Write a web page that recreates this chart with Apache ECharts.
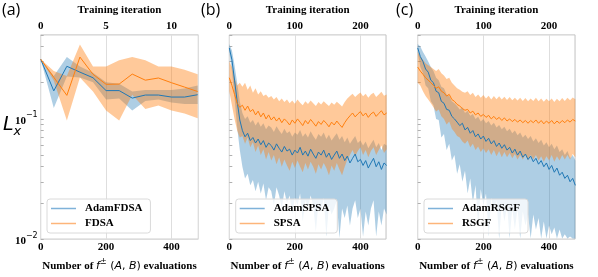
<!DOCTYPE html>
<html><head><meta charset="utf-8">
<script src="https://cdn.jsdelivr.net/npm/echarts@6/dist/echarts.min.js"></script>
<style>html,body{margin:0;padding:0;background:#fff}#c{width:598px;height:277px}</style>
</head><body><div id="c"></div>
<script>
// ---------- labels / ticks ----------
const panelLabels = ['(a)', '(b)', '(c)'];
const legendNames = [['AdamFDSA', 'FDSA'], ['AdamSPSA', 'SPSA'], ['AdamRSGF', 'RSGF']];
const yLabelValues = [0.01, 0.1];
const yTickValues = [0.01,0.02,0.03,0.04,0.05,0.06,0.07,0.08,0.09,0.1,0.2,0.3,0.4,0.5];
const yMin = 0.01, yMax = 0.5;
const evalMax = [482, 478, 479];
const iterMax = [12.05, 239, 239.5];
const iterInterval = [5, 100, 100];

// ---------- panel (a): FDSA, 40 evaluations per iteration ----------
const evalsA = [0,40,80,120,160,200,240,280,320,360,400,440,480];
const adamFDSA_mean = [0.314,0.171,0.274,0.245,0.220,0.172,0.172,0.149,0.158,0.158,0.152,0.152,0.159];
const adamFDSA_lo   = [0.314,0.1235,0.225,0.221,0.202,0.145,0.148,0.1177,0.141,0.145,0.137,0.133,0.133];
const adamFDSA_hi   = [0.314,0.228,0.327,0.273,0.242,0.202,0.196,0.169,0.174,0.174,0.174,0.179,0.190];
const fdsa_mean = [0.314,0.222,0.157,0.327,0.235,0.194,0.195,0.236,0.210,0.219,0.200,0.184,0.169];
const fdsa_lo   = [0.314,0.208,0.097,0.221,0.169,0.1177,0.097,0.159,0.121,0.129,0.1177,0.1108,0.1013];
const fdsa_hi   = [0.314,0.250,0.228,0.416,0.273,0.273,0.308,0.327,0.308,0.273,0.273,0.257,0.235];

// ---------- panels (b),(c): sampled every 8 evaluations ----------
const evalsBC = [0,8,16,24,32,40,48,56,64,72,80,88,96,104,112,120,128,136,144,152,160,168,176,184,192,200,208,216,224,232,240,248,256,264,272,280,288,296,304,312,320,328,336,344,352,360,368,376,384,392,400,408,416,424,432,440,448,456,464,472,480];

const adamSPSA_mean = [0.39,0.31,0.21,0.14,0.098,0.08,0.071,0.076,0.066,0.07,0.063,0.068,0.061,0.066,0.058,0.063,0.06,0.055,0.062,0.057,0.053,0.059,0.054,0.056,0.05,0.055,0.052,0.058,0.05,0.054,0.049,0.056,0.051,0.047,0.053,0.05,0.055,0.048,0.052,0.046,0.05,0.054,0.047,0.051,0.045,0.049,0.043,0.047,0.051,0.044,0.046,0.041,0.045,0.039,0.043,0.047,0.04,0.044,0.038,0.043,0.041];
const adamSPSA_hi = [0.42,0.37,0.28,0.2,0.14,0.112,0.1,0.105,0.093,0.098,0.088,0.095,0.086,0.092,0.082,0.088,0.085,0.078,0.087,0.08,0.075,0.083,0.076,0.079,0.071,0.077,0.074,0.081,0.071,0.076,0.07,0.079,0.072,0.067,0.075,0.071,0.077,0.068,0.074,0.066,0.071,0.076,0.067,0.072,0.064,0.07,0.062,0.067,0.072,0.063,0.066,0.06,0.065,0.057,0.062,0.067,0.058,0.063,0.055,0.062,0.06];
const adamSPSA_lo = [0.36,0.25,0.15,0.085,0.055,0.04,0.032,0.035,0.028,0.031,0.025,0.03,0.024,0.029,0.021,0.027,0.025,0.019,0.027,0.023,0.018,0.025,0.02,0.023,0.016,0.022,0.019,0.024,0.014,0.021,0.018,0.023,0.019,0.0115,0.02,0.017,0.022,0.0105,0.019,0.016,0.018,0.021,0.0102,0.018,0.015,0.019,0.013,0.018,0.021,0.015,0.018,0.0105,0.017,0.013,0.018,0.021,0.0105,0.017,0.013,0.018,0.016];

const spsa_mean = [0.22,0.19,0.16,0.135,0.125,0.13,0.118,0.128,0.115,0.12,0.108,0.116,0.104,0.112,0.1,0.108,0.098,0.104,0.096,0.102,0.093,0.1,0.095,0.089,0.098,0.092,0.1,0.094,0.088,0.097,0.091,0.099,0.093,0.087,0.095,0.09,0.097,0.092,0.086,0.094,0.089,0.096,0.09,0.085,0.093,0.1,0.106,0.112,0.104,0.11,0.115,0.106,0.112,0.103,0.11,0.114,0.105,0.111,0.117,0.108,0.112];
const spsa_hi = [0.3,0.27,0.22,0.19,0.2,0.185,0.2,0.175,0.19,0.165,0.18,0.16,0.17,0.155,0.16,0.15,0.155,0.145,0.152,0.14,0.148,0.138,0.145,0.135,0.142,0.134,0.145,0.136,0.13,0.14,0.133,0.142,0.135,0.128,0.138,0.132,0.14,0.134,0.128,0.137,0.131,0.139,0.133,0.127,0.138,0.148,0.155,0.162,0.152,0.16,0.166,0.154,0.162,0.15,0.16,0.165,0.152,0.16,0.168,0.156,0.16];
const spsa_lo = [0.17,0.13,0.1,0.08,0.07,0.072,0.062,0.07,0.058,0.064,0.053,0.06,0.05,0.056,0.046,0.053,0.045,0.05,0.042,0.048,0.04,0.046,0.041,0.037,0.044,0.039,0.045,0.04,0.036,0.043,0.038,0.044,0.04,0.035,0.042,0.038,0.043,0.039,0.034,0.041,0.037,0.043,0.038,0.034,0.04,0.046,0.05,0.055,0.049,0.054,0.058,0.05,0.055,0.048,0.054,0.058,0.05,0.055,0.06,0.052,0.056];

const adamRSGF_mean = [0.39,0.33,0.3,0.26,0.245,0.21,0.2,0.17,0.165,0.14,0.135,0.12,0.118,0.105,0.1,0.094,0.088,0.092,0.081,0.085,0.076,0.08,0.071,0.075,0.068,0.072,0.065,0.069,0.062,0.066,0.059,0.063,0.057,0.061,0.055,0.058,0.052,0.056,0.05,0.054,0.048,0.051,0.046,0.049,0.044,0.047,0.042,0.045,0.04,0.043,0.038,0.041,0.036,0.039,0.034,0.036,0.032,0.034,0.03,0.032,0.028];
const adamRSGF_hi = [0.42,0.4,0.36,0.33,0.3,0.27,0.25,0.22,0.21,0.185,0.18,0.16,0.155,0.14,0.135,0.128,0.12,0.125,0.112,0.117,0.106,0.11,0.1,0.104,0.095,0.1,0.092,0.096,0.088,0.093,0.085,0.089,0.082,0.086,0.079,0.083,0.076,0.08,0.073,0.077,0.07,0.074,0.068,0.072,0.065,0.069,0.063,0.067,0.06,0.064,0.058,0.062,0.056,0.06,0.053,0.056,0.05,0.054,0.047,0.05,0.045];
const adamRSGF_lo = [0.36,0.27,0.24,0.19,0.18,0.14,0.13,0.1,0.098,0.07,0.075,0.055,0.062,0.045,0.05,0.035,0.042,0.03,0.037,0.024,0.032,0.02,0.028,0.013,0.026,0.019,0.024,0.0105,0.022,0.017,0.021,0.0101,0.02,0.014,0.019,0.0102,0.018,0.012,0.018,0.0101,0.017,0.013,0.016,0.0101,0.016,0.012,0.015,0.0101,0.014,0.0101,0.013,0.011,0.0125,0.0101,0.012,0.0101,0.011,0.0101,0.0105,0.0101,0.0101];

const rsgf_mean = [0.27,0.25,0.235,0.22,0.21,0.2,0.19,0.18,0.185,0.17,0.165,0.155,0.16,0.145,0.14,0.132,0.128,0.122,0.118,0.12,0.112,0.116,0.108,0.112,0.105,0.109,0.103,0.107,0.1,0.105,0.099,0.103,0.097,0.102,0.096,0.1,0.095,0.099,0.094,0.098,0.093,0.097,0.092,0.097,0.093,0.098,0.092,0.097,0.091,0.096,0.092,0.097,0.091,0.096,0.092,0.097,0.093,0.098,0.094,0.099,0.096];
const rsgf_hi = [0.36,0.33,0.31,0.29,0.28,0.27,0.26,0.25,0.26,0.24,0.23,0.215,0.22,0.2,0.19,0.18,0.175,0.168,0.165,0.17,0.158,0.165,0.152,0.16,0.15,0.158,0.148,0.156,0.145,0.155,0.146,0.154,0.145,0.153,0.144,0.152,0.143,0.15,0.142,0.15,0.141,0.149,0.14,0.148,0.141,0.15,0.14,0.148,0.139,0.147,0.14,0.148,0.138,0.147,0.14,0.149,0.141,0.15,0.143,0.151,0.146];
const rsgf_lo = [0.2,0.19,0.17,0.155,0.145,0.135,0.125,0.115,0.12,0.105,0.1,0.09,0.095,0.083,0.078,0.072,0.07,0.065,0.062,0.066,0.058,0.062,0.055,0.059,0.053,0.057,0.052,0.056,0.05,0.055,0.049,0.054,0.048,0.053,0.048,0.052,0.047,0.051,0.046,0.05,0.046,0.05,0.045,0.05,0.046,0.05,0.045,0.049,0.044,0.049,0.045,0.05,0.044,0.049,0.045,0.05,0.046,0.05,0.046,0.051,0.048];

// ---------- styling ----------
const BLUE = '#1f77b4', ORANGE = '#ff7f0e';
const BLUE_BAND = 'rgba(31,119,180,0.36)', ORANGE_BAND = 'rgba(255,127,14,0.42)';
const BLUE_LEG = '#7fb2d9', ORANGE_LEG = '#fdb57a';
const SERIF = '"Liberation Serif", "Times New Roman", serif';
const MATH = '"DejaVu Sans", sans-serif';
const GRID_COLOR = '#c4c4c4';

const grids = [
  {left: 40.7, right: 399.7, top: 25.3, bottom: 33.7},
  {left: 229.3, right: 212, top: 25.3, bottom: 33.7},
  {left: 417.7, right: 23, top: 25.3, bottom: 33.7}
];
const legendLeft = [47, 235.7, 424];

const panels = [
  {xs: evalsA, m1: adamFDSA_mean, l1: adamFDSA_lo, h1: adamFDSA_hi, m2: fdsa_mean, l2: fdsa_lo, h2: fdsa_hi},
  {xs: evalsBC, m1: adamSPSA_mean, l1: adamSPSA_lo, h1: adamSPSA_hi, m2: spsa_mean, l2: spsa_lo, h2: spsa_hi},
  {xs: evalsBC, m1: adamRSGF_mean, l1: adamRSGF_lo, h1: adamRSGF_hi, m2: rsgf_mean, l2: rsgf_lo, h2: rsgf_hi}
];

const tickFont = {fontFamily: SERIF, fontWeight: 'bold', fontSize: 11, color: '#000'};

function bandSeries(xs, lo, hi, color, gi) {
  return {
    type: 'custom', xAxisIndex: 2 * gi, yAxisIndex: gi, clip: true, silent: true, z: 1,
    data: xs.map((x, i) => [x, lo[i], hi[i]]),
    encode: {x: 0, y: [1, 2]},
    renderItem(params, api) {
      if (params.dataIndex !== 0) return null;
      const pts = [];
      for (let i = 0; i < xs.length; i++) pts.push(api.coord([xs[i], hi[i]]));
      for (let i = xs.length - 1; i >= 0; i--) pts.push(api.coord([xs[i], lo[i]]));
      return {type: 'polygon', shape: {points: pts}, style: {fill: color}};
    }
  };
}
function lineSeries(name, xs, m, color, gi) {
  return {
    type: 'line', name, xAxisIndex: 2 * gi, yAxisIndex: gi, symbol: 'none', silent: true, z: 3,
    data: xs.map((x, i) => [x, m[i]]),
    lineStyle: {color, width: 1}, itemStyle: {color}
  };
}

const xAxes = [], yAxes = [], series = [], legends = [];
panels.forEach((p, gi) => {
  xAxes.push({
    type: 'value', gridIndex: gi, position: 'bottom', min: 0, max: evalMax[gi], interval: 200,
    axisLine: {show: false}, axisTick: {show: false},
    splitLine: {show: true, lineStyle: {color: '#dedede', width: 1}},
    axisLabel: Object.assign({margin: 3, showMaxLabel: false}, tickFont),
    name: '{b|Number of }{i|f}{s|±}{m| (}{i|A}{m|, }{i|B}{m|)}{b| evaluations}',
    nameLocation: 'middle', nameGap: 14,
    nameTextStyle: {
      rich: {
        b: {fontFamily: SERIF, fontWeight: 'bold', fontSize: 11, color: '#000', lineHeight: 14, verticalAlign: 'bottom'},
        i: {fontFamily: MATH, fontStyle: 'italic', fontSize: 11, color: '#000', lineHeight: 14, verticalAlign: 'bottom'},
        m: {fontFamily: MATH, fontSize: 11, color: '#000', lineHeight: 14, verticalAlign: 'bottom'},
        s: {fontFamily: MATH, fontSize: 8, color: '#000', lineHeight: 8, verticalAlign: 'top'}
      }
    }
  });
  xAxes.push({
    type: 'value', gridIndex: gi, position: 'top', min: 0, max: iterMax[gi], interval: iterInterval[gi],
    axisLine: {show: false}, axisTick: {show: false}, splitLine: {show: false},
    axisLabel: Object.assign({margin: 3, showMaxLabel: false}, tickFont),
    name: 'Training iteration', nameLocation: 'middle', nameGap: 18,
    nameTextStyle: {fontFamily: SERIF, fontWeight: 'bold', fontSize: 11, color: '#000'}
  });
  yAxes.push({
    type: 'log', logBase: 10, gridIndex: gi, min: yMin, max: yMax,
    axisLine: {show: false},
    axisTick: {show: true, inside: true, length: 3, customValues: yTickValues, lineStyle: {color: '#b0b0b0'}},
    splitLine: {show: false},
    axisLabel: {
      show: gi === 0, margin: 3, customValues: yLabelValues,
      formatter: v => '{b|10}{s|−' + Math.round(-Math.log10(v)) + '}',
      rich: {
        b: {fontFamily: SERIF, fontWeight: 'bold', fontSize: 11, color: '#000', lineHeight: 15, verticalAlign: 'bottom'},
        s: {fontFamily: MATH, fontSize: 8, color: '#000', lineHeight: 8, verticalAlign: 'top'}
      }
    }
  });
  series.push(bandSeries(p.xs, p.l1, p.h1, BLUE_BAND, gi));
  series.push(lineSeries(legendNames[gi][0], p.xs, p.m1, BLUE, gi));
  series.push(bandSeries(p.xs, p.l2, p.h2, ORANGE_BAND, gi));
  series.push(lineSeries(legendNames[gi][1], p.xs, p.m2, ORANGE, gi));
  legends.push({
    left: legendLeft[gi], top: 199, orient: 'vertical', icon: 'rect', itemWidth: 25, itemHeight: 1.5,
    itemGap: 4, padding: [4, 8, 4, 4], borderColor: '#dadada', borderWidth: 1, borderRadius: 3,
    backgroundColor: 'rgba(255,255,255,0.8)', selectedMode: false,
    textStyle: {fontFamily: SERIF, fontWeight: 'bold', fontSize: 11, color: '#000', padding: [0, 0, 0, 4]},
    data: [
      {name: legendNames[gi][0], itemStyle: {color: BLUE_LEG}},
      {name: legendNames[gi][1], itemStyle: {color: ORANGE_LEG}}
    ]
  });
});

const chart = echarts.init(document.getElementById('c'), null, {renderer: 'canvas'});
chart.setOption({
  animation: false,
  backgroundColor: '#fff',
  grid: grids.map(g => Object.assign({show: true, borderColor: GRID_COLOR, borderWidth: 1, backgroundColor: 'transparent', containLabel: false}, g)),
  xAxis: xAxes,
  yAxis: yAxes,
  legend: legends,
  series: series,
  graphic: [
    {type: 'text', left: 2, top: 2, style: {text: panelLabels[0], fontFamily: '"Open Sans", sans-serif', fontSize: 16, fill: '#000'}},
    {type: 'text', left: 201, top: 2, style: {text: panelLabels[1], fontFamily: '"Open Sans", sans-serif', fontSize: 16, fill: '#000'}},
    {type: 'text', left: 396, top: 2, style: {text: panelLabels[2], fontFamily: '"Open Sans", sans-serif', fontSize: 16, fill: '#000'}},
    {type: 'text', left: 3, top: 116, style: {
      text: '{L|L}{x|x}',
      rich: {
        L: {fontFamily: MATH, fontStyle: 'italic', fontSize: 19, fill: '#000', lineHeight: 22, verticalAlign: 'top'},
        x: {fontFamily: MATH, fontStyle: 'italic', fontSize: 13, fill: '#000', lineHeight: 13, verticalAlign: 'bottom'}
      }
    }}
  ]
});
</script>
</body></html>
